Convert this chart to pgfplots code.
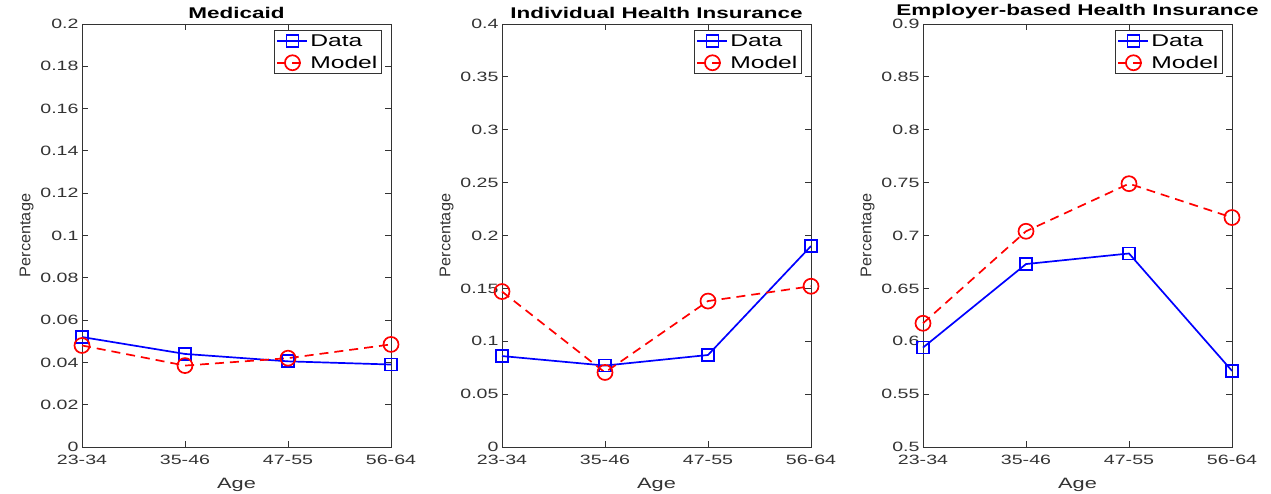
\documentclass[border=0pt]{standalone}
\usepackage{fontspec}
\setmainfont[FakeStretch=1.45]{Liberation Sans}
\newfontfamily\plainsans[FakeStretch=1.05]{Liberation Sans}
\usepackage{pgfplots}
\pgfplotsset{compat=1.18}

\definecolor{axgray}{gray}{0.2}

\pgfplotsset{
  panel/.style={
    scale only axis,
    width=309pt, height=423pt,
    xmin=0, xmax=3,
    xtick={0,1,2,3},
    xticklabels={23-34,35-46,47-55,56-64},
    axis line style={axgray, line width=0.9pt},
    every tick/.style={axgray, line width=0.9pt},
    major tick length=6pt,
    tick align=inside,
    tick label style={font=\fontsize{13.5}{16}\selectfont, color=axgray},
    xticklabel style={yshift=-5pt},
    /pgf/number format/.cd, fixed, precision=2, assume math mode=true,
    /pgfplots/.cd,
    scaled y ticks=false,
    title style={font=\bfseries\fontsize{15.5}{18}\selectfont, yshift=-4pt},
    xlabel={Age},
    xlabel style={font=\fontsize{15}{18}\selectfont, color=axgray, yshift=-6pt},
    ylabel={Percentage},
    ylabel style={font=\plainsans\fontsize{15.5}{18}\selectfont, color=axgray},
    clip=false,
    legend style={at={(0.97,0.985)}, anchor=north east,
      font=\fontsize{17}{20}\selectfont, draw=axgray, line width=0.6pt,
      inner sep=2pt, row sep=4pt},
    legend cell align=left,
    legend image code/.code={
      \draw[mark repeat=2, mark phase=2]
        plot coordinates {(0pt,0pt) (15pt,0pt) (30pt,0pt)};},
  },
  dataline/.style={blue, line width=1.7pt, mark=square, mark size=6pt},
  modelline/.style={red, line width=1.7pt, dash pattern=on 9pt off 6pt,
    mark=o, mark size=7.5pt, mark options={solid}},
}

\begin{document}
\begin{tikzpicture}
\useasboundingbox (0,0) rectangle (1271pt,493pt);

\begin{axis}[panel, at={(82pt,46pt)}, title={Medicaid},
  ymin=0, ymax=0.2, ytick={0,0.02,...,0.2}]
  \addplot[dataline] coordinates {(0,0.052) (1,0.044) (2,0.0405) (3,0.039)};
  \addlegendentry{Data}
  \addplot[modelline] coordinates {(0,0.048) (1,0.0385) (2,0.042) (3,0.0485)};
  \addlegendentry{Model}
\end{axis}

\begin{axis}[panel, at={(502pt,46pt)}, title={Individual Health Insurance},
  ymin=0, ymax=0.4, ytick={0,0.05,...,0.4}]
  \addplot[dataline] coordinates {(0,0.086) (1,0.077) (2,0.087) (3,0.190)};
  \addlegendentry{Data}
  \addplot[modelline] coordinates {(0,0.147) (1,0.0705) (2,0.138) (3,0.152)};
  \addlegendentry{Model}
\end{axis}

\begin{axis}[panel, at={(923pt,46pt)}, title={Employer-based Health Insurance},
  ymin=0.5, ymax=0.9, ytick={0.5,0.55,...,0.9}]
  \addplot[dataline] coordinates {(0,0.594) (1,0.673) (2,0.683) (3,0.572)};
  \addlegendentry{Data}
  \addplot[modelline] coordinates {(0,0.617) (1,0.704) (2,0.749) (3,0.717)};
  \addlegendentry{Model}
\end{axis}
\end{tikzpicture}
\end{document}
